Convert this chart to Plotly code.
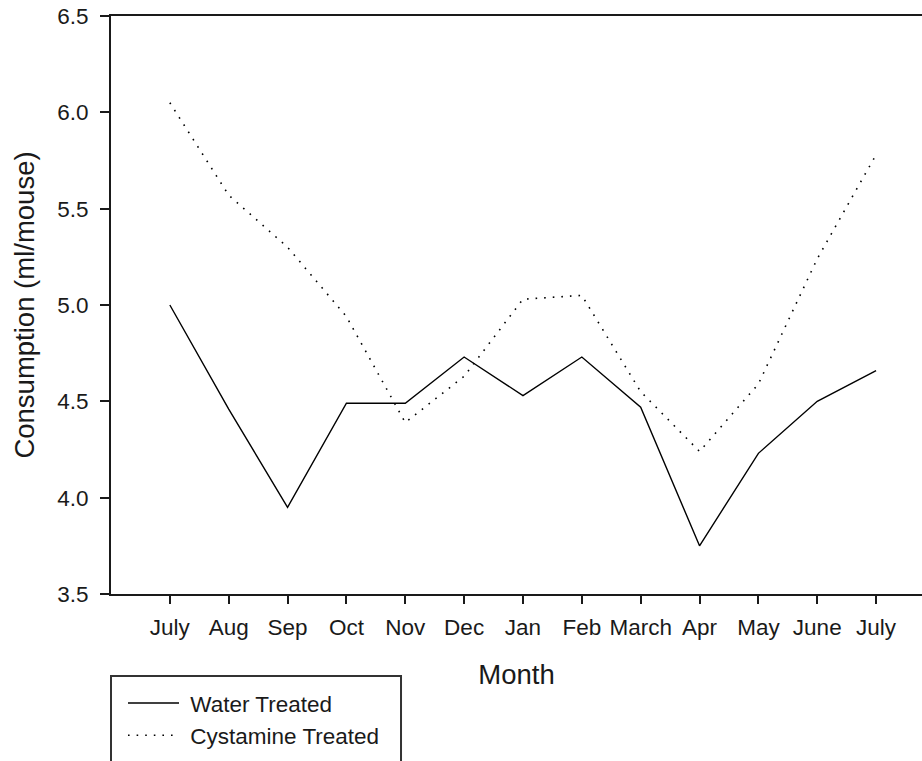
import plotly.graph_objects as go

# Monthly consumption per mouse, July through the following July
months = ["July", "Aug", "Sep", "Oct", "Nov", "Dec", "Jan", "Feb",
          "March", "Apr", "May", "June", "July"]
water_treated = [5.00, 4.46, 3.95, 4.49, 4.49, 4.73, 4.53, 4.73,
                 4.47, 3.75, 4.23, 4.50, 4.66]
cystamine_treated = [6.05, 5.57, 5.30, 4.94, 4.39, 4.63, 5.03, 5.05,
                     4.55, 4.24, 4.59, 5.24, 5.78]
y_ticks = [3.5, 4.0, 4.5, 5.0, 5.5, 6.0, 6.5]

FONT = "Liberation Sans, Arial, sans-serif"
INK = "#1a1a1a"
TICK_SIZE = 22.5
TITLE_SIZE = 27.5
idx = list(range(len(months)))

fig = go.Figure()
fig.add_trace(go.Scatter(
    x=idx, y=water_treated, mode="lines", name="\u00a0Water Treated",
    line=dict(color="black", width=1.4),
))
fig.add_trace(go.Scatter(
    x=idx, y=cystamine_treated, mode="lines", name="\u00a0Cystamine Treated",
    line=dict(color="black", width=1.6, dash="1.6px,7px"),
))

# Frame around the legend, running off the bottom of the page
fig.add_shape(
    type="rect", xref="paper", yref="paper",
    x0=0, x1=0.3576, y0=-0.32, y1=-0.1419,
    line=dict(color="#333333", width=2), fillcolor="rgba(0,0,0,0)",
)

fig.update_layout(
    width=922, height=761,
    margin=dict(l=111, r=0, t=16, b=167),
    paper_bgcolor="white", plot_bgcolor="white",
    font=dict(family=FONT, size=TICK_SIZE, color=INK),
    showlegend=True,
    legend=dict(
        x=12 / 811, y=-0.152, xanchor="left", yanchor="top",
        bgcolor="rgba(0,0,0,0)", borderwidth=0,
        font=dict(family=FONT, size=TICK_SIZE, color=INK),
        itemwidth=51, tracegroupgap=0,
    ),
    xaxis=dict(
        range=[-1, 12.78],
        tickmode="array", tickvals=idx, ticktext=months,
        showline=True, linecolor=INK, linewidth=2, mirror=True,
        ticks="outside", ticklen=8, tickwidth=2, tickcolor=INK,
        showgrid=False, zeroline=False,
        ticklabelstandoff=4,
        tickfont=dict(family=FONT, size=TICK_SIZE, color=INK),
        title=dict(text="Month", font=dict(family=FONT, size=TITLE_SIZE, color=INK),
                   standoff=26),
    ),
    yaxis=dict(
        range=[3.5, 6.5],
        tickmode="array", tickvals=y_ticks, ticktext=[f"{v:.1f}" for v in y_ticks],
        showline=True, linecolor=INK, linewidth=2, mirror=False,
        ticks="outside", ticklen=9, tickwidth=2, tickcolor=INK,
        showgrid=False, zeroline=False,
        ticklabelstandoff=7,
        tickfont=dict(family=FONT, size=TICK_SIZE, color=INK),
        title=dict(text="Consumption (ml/mouse)",
                   font=dict(family=FONT, size=TITLE_SIZE, color=INK), standoff=15),
    ),
)

fig.write_html("out.html")
